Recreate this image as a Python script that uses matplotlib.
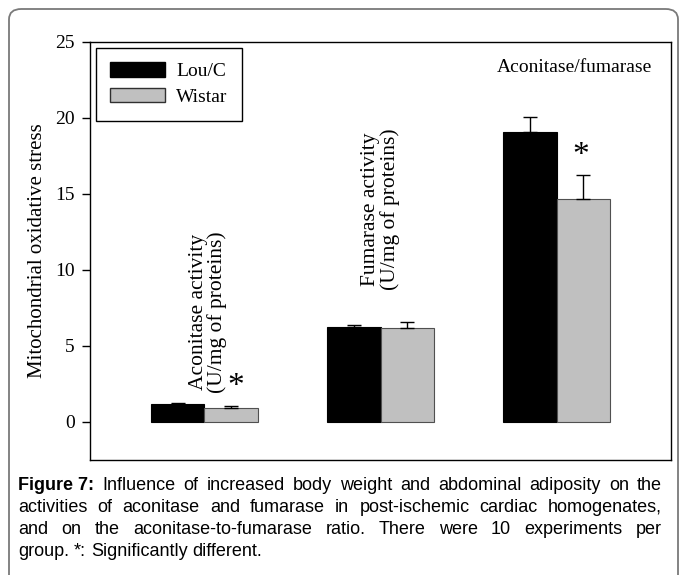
import matplotlib
matplotlib.use('Agg')
import matplotlib.pyplot as plt
from matplotlib.patches import Patch, FancyBboxPatch
from matplotlib import font_manager

# Data
groups = ['Aconitase activity\n(U/mg of proteins)',
          'Fumarase activity\n(U/mg of proteins)',
          'Aconitase/fumarase']
lou_c = [1.2, 6.25, 19.05]
lou_c_err = [0.08, 0.1, 1.0]
wistar = [0.92, 6.2, 14.7]
wistar_err = [0.1, 0.4, 1.55]
series_names = ['Lou/C', 'Wistar']
y_ticks = [0, 5, 10, 15, 20, 25]

caption_lines = [
    'Influence of increased body weight and abdominal adiposity on the',
    'activities of aconitase and fumarase in post-ischemic cardiac homogenates,',
    'and on the aconitase-to-fumarase ratio. There were 10 experiments per',
    'group. *: Significantly different.',
]

serif = 'Liberation Serif'
names = {f.name for f in font_manager.fontManager.ttflist}
cap_font = 'Liberation Sans Narrow' if 'Liberation Sans Narrow' in names else 'Liberation Sans'

W, H = 681, 575
fig = plt.figure(figsize=(W / 100, H / 100), dpi=100)

# outer rounded frame
frame = FancyBboxPatch((9 / W, -20 / H), 669 / W, (H - 9 + 20) / H,
                       boxstyle='round,pad=0,rounding_size=0.018',
                       transform=fig.transFigure, fill=False,
                       edgecolor='#7a7a7a', linewidth=1.3)
fig.patches.append(frame)

ax = fig.add_axes([90 / W, 1 - 460 / H, 581 / W, 418 / H])
x = [1, 2, 3]
w = 0.305
ax.bar([i - w / 2 for i in x], lou_c, w, color='black', edgecolor='black', linewidth=0.8,
       yerr=[[0, 0, 0], lou_c_err], capsize=4.7, error_kw=dict(elinewidth=1, capthick=1))
ax.bar([i + w / 2 for i in x], wistar, w, color='#c0c0c0', edgecolor='#505050', linewidth=0.8,
       yerr=[[0, 0, 0], wistar_err], capsize=4.7, error_kw=dict(elinewidth=1, capthick=1))

ax.set_xlim(0.35, 3.65)
ax.set_ylim(-2.5, 25)
ax.set_xticks([])
ax.set_yticks(y_ticks)
ax.tick_params(axis='y', direction='out', length=6, width=1, labelsize=14, pad=5)
for lab in ax.get_yticklabels():
    lab.set_family(serif)
for s in ax.spines.values():
    s.set_linewidth(1)
ax.set_ylabel('Mitochondrial oxidative stress', family=serif, fontsize=15, labelpad=6)

# group labels
ax.text(1.02, 1.9, groups[0], rotation=90, ha='center', va='bottom',
        family=serif, fontsize=15.5, linespacing=0.95)
ax.text(2.0, 8.7, groups[1], rotation=90, ha='center', va='bottom',
        family=serif, fontsize=15.5, linespacing=0.95)
ax.text(3.1, 23.3, groups[2], ha='center', va='center', family=serif, fontsize=14)

# significance marks
ax.text(1.18, 2.3, '*', ha='center', va='center', family=serif, fontsize=24)
ax.text(3.14, 17.5, '*', ha='center', va='center', family=serif, fontsize=24)

handles = [Patch(facecolor='black', edgecolor='black'),
           Patch(facecolor='#c0c0c0', edgecolor='#303030')]
leg = ax.legend(handles, series_names, loc='upper left', bbox_to_anchor=(0.0095, 0.986),
                borderaxespad=0, fancybox=False, edgecolor='black', framealpha=1,
                prop={'family': serif, 'size': 14}, handlelength=2.8, handleheight=0.75,
                handletextpad=0.6, labelspacing=0.4, borderpad=0.75)
leg.get_frame().set_linewidth(1)

# caption, justified by hand
fig.canvas.draw()
renderer = fig.canvas.get_renderer()
left_px, right_px = 18, 662
line_y = [486, 508, 530, 551]
fs = 13
probe1 = fig.text(0, 0, 'a b', family=cap_font, fontsize=fs)
probe2 = fig.text(0, 0, 'ab', family=cap_font, fontsize=fs)
space = probe1.get_window_extent(renderer).width - probe2.get_window_extent(renderer).width
probe1.remove()
probe2.remove()
for k, line in enumerate(caption_lines):
    yf = 1 - line_y[k] / H
    words = line.split(' ')
    weights = ['normal'] * len(words)
    if k == 0:
        words = ['Figure 7:'] + words
        weights = ['bold'] + weights
    texts = [fig.text(0, yf, wd, family=cap_font, fontsize=fs, weight=wt, va='center', ha='left')
             for wd, wt in zip(words, weights)]
    widths = [t.get_window_extent(renderer).width for t in texts]
    if k < 3:
        gap = (right_px - left_px - sum(widths)) / (len(words) - 1)
    else:
        gap = space
    xp = left_px
    for t, wdt in zip(texts, widths):
        t.set_x(xp / W)
        xp += wdt + gap

fig.savefig('out.png', dpi=100)
